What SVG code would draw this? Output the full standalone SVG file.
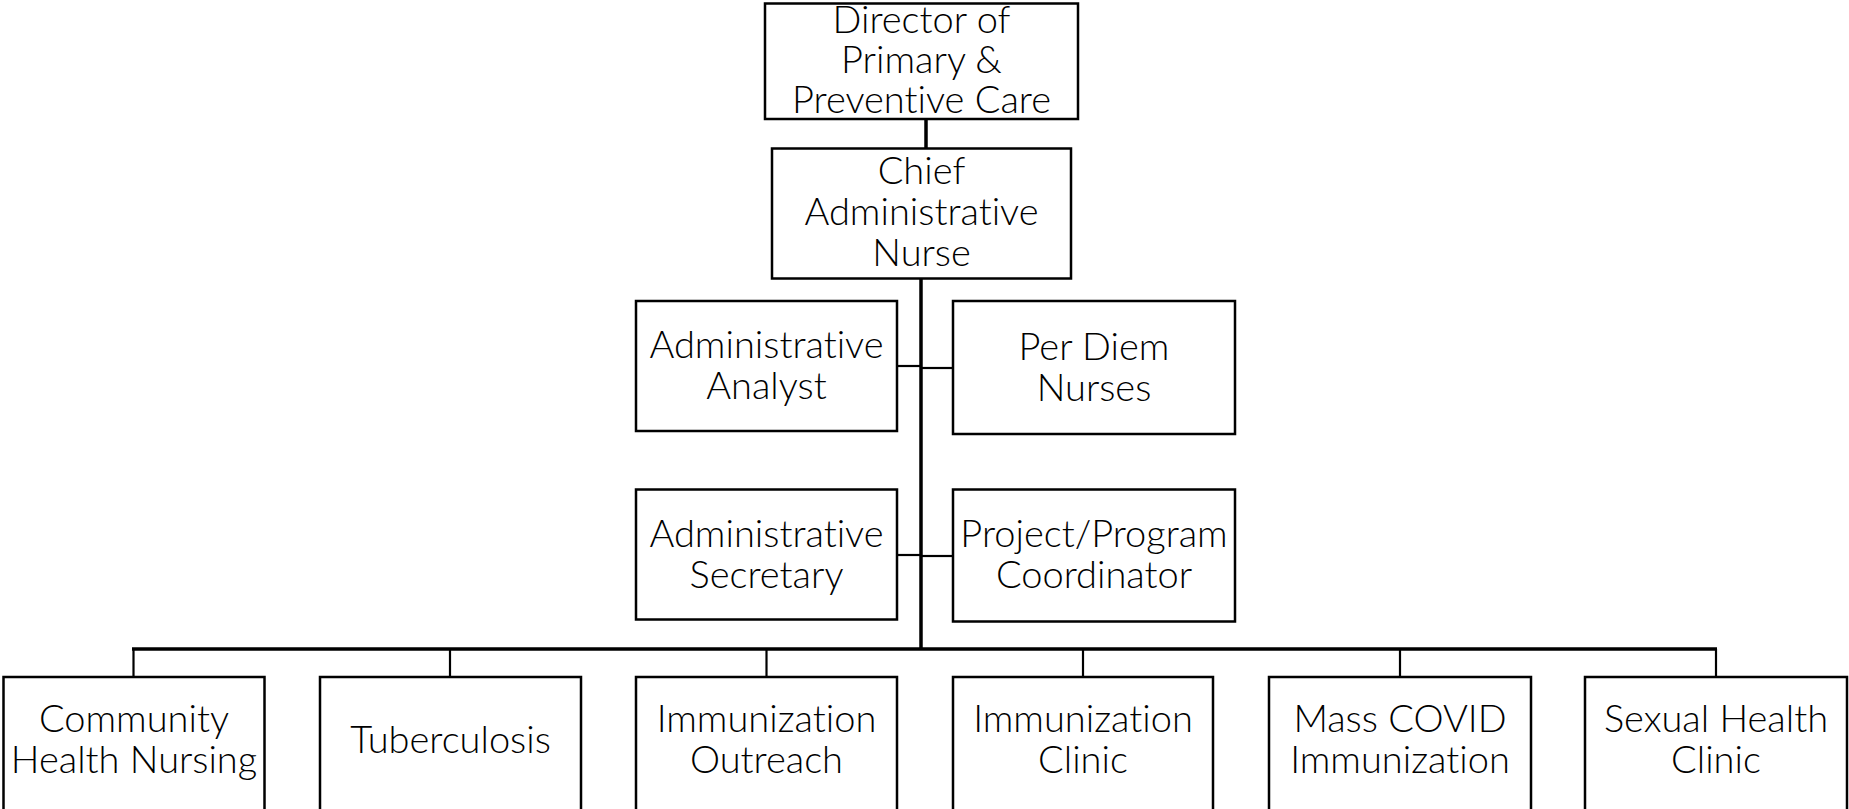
<svg xmlns="http://www.w3.org/2000/svg" width="1849" height="809" viewBox="0 0 1849 809">
  <style>
    .box { fill: #ffffff; stroke: #000000; stroke-width: 2.5; }
    .lbl { font-family: Lato, "Liberation Sans", sans-serif; font-size: 38px; font-weight: 300; font-variant-ligatures: none; fill: #000000; text-anchor: middle; }
    .trunk { stroke: #000000; stroke-width: 3.5; fill: none; }
    .link { stroke: #000000; stroke-width: 2.2; fill: none; }
  </style>
  <rect width="1849" height="809" fill="#ffffff"/>

  <!-- connectors -->
  <g id="connectors">
    <line class="trunk" x1="926" y1="119" x2="926" y2="148"/>
    <line class="trunk" x1="921" y1="278" x2="921" y2="650"/>
    <line class="link" x1="897" y1="366" x2="921" y2="366"/>
    <line class="link" x1="921" y1="368" x2="953" y2="368"/>
    <line class="link" x1="897" y1="555" x2="921" y2="555"/>
    <line class="link" x1="921" y1="556" x2="953" y2="556"/>
    <line class="trunk" x1="132" y1="649" x2="1717" y2="649"/>
    <line class="link" x1="133.5" y1="649" x2="133.5" y2="677"/>
    <line class="link" x1="450" y1="649" x2="450" y2="677"/>
    <line class="link" x1="766.5" y1="649" x2="766.5" y2="677"/>
    <line class="link" x1="1083" y1="649" x2="1083" y2="677"/>
    <line class="link" x1="1400" y1="649" x2="1400" y2="677"/>
    <line class="link" x1="1716" y1="649" x2="1716" y2="677"/>
  </g>

  <g id="director">
    <rect class="box" x="765" y="3.5" width="313" height="115.5"/>
    <text class="lbl" x="921.5" y="33">Director of</text>
    <text class="lbl" x="921.5" y="73">Primary &amp;</text>
    <text class="lbl" x="921.5" y="113">Preventive Care</text>
  </g>

  <g id="chief">
    <rect class="box" x="772" y="148.5" width="299" height="130"/>
    <text class="lbl" x="921.5" y="184">Chief</text>
    <text class="lbl" x="921.5" y="225">Administrative</text>
    <text class="lbl" x="921.5" y="266">Nurse</text>
  </g>

  <g id="admin-analyst">
    <rect class="box" x="636" y="301" width="261" height="130"/>
    <text class="lbl" x="766.5" y="358">Administrative</text>
    <text class="lbl" x="766.5" y="399">Analyst</text>
  </g>

  <g id="per-diem">
    <rect class="box" x="953" y="301" width="282" height="133"/>
    <text class="lbl" x="1094" y="360">Per Diem</text>
    <text class="lbl" x="1094" y="401">Nurses</text>
  </g>

  <g id="admin-secretary">
    <rect class="box" x="636" y="489.5" width="261" height="130"/>
    <text class="lbl" x="766.5" y="547">Administrative</text>
    <text class="lbl" x="766.5" y="588">Secretary</text>
  </g>

  <g id="project-coordinator">
    <rect class="box" x="953" y="489.5" width="282" height="132"/>
    <text class="lbl" x="1094" y="547">Project/Program</text>
    <text class="lbl" x="1094" y="588">Coordinator</text>
  </g>

  <g id="community-health-nursing">
    <rect class="box" x="3.5" y="677" width="261" height="134"/>
    <text class="lbl" x="134" y="732">Community</text>
    <text class="lbl" x="134" y="773">Health Nursing</text>
  </g>

  <g id="tuberculosis">
    <rect class="box" x="320" y="677" width="261" height="134"/>
    <text class="lbl" x="450.5" y="753">Tuberculosis</text>
  </g>

  <g id="immunization-outreach">
    <rect class="box" x="636" y="677" width="261" height="134"/>
    <text class="lbl" x="766.5" y="732">Immunization</text>
    <text class="lbl" x="766.5" y="773">Outreach</text>
  </g>

  <g id="immunization-clinic">
    <rect class="box" x="953" y="677" width="260" height="134"/>
    <text class="lbl" x="1083" y="732">Immunization</text>
    <text class="lbl" x="1083" y="773">Clinic</text>
  </g>

  <g id="mass-covid-immunization">
    <rect class="box" x="1269" y="677" width="262" height="134"/>
    <text class="lbl" x="1400" y="732">Mass COVID</text>
    <text class="lbl" x="1400" y="773">Immunization</text>
  </g>

  <g id="sexual-health-clinic">
    <rect class="box" x="1585" y="677" width="262" height="134"/>
    <text class="lbl" x="1716" y="732">Sexual Health</text>
    <text class="lbl" x="1716" y="773">Clinic</text>
  </g>
</svg>
